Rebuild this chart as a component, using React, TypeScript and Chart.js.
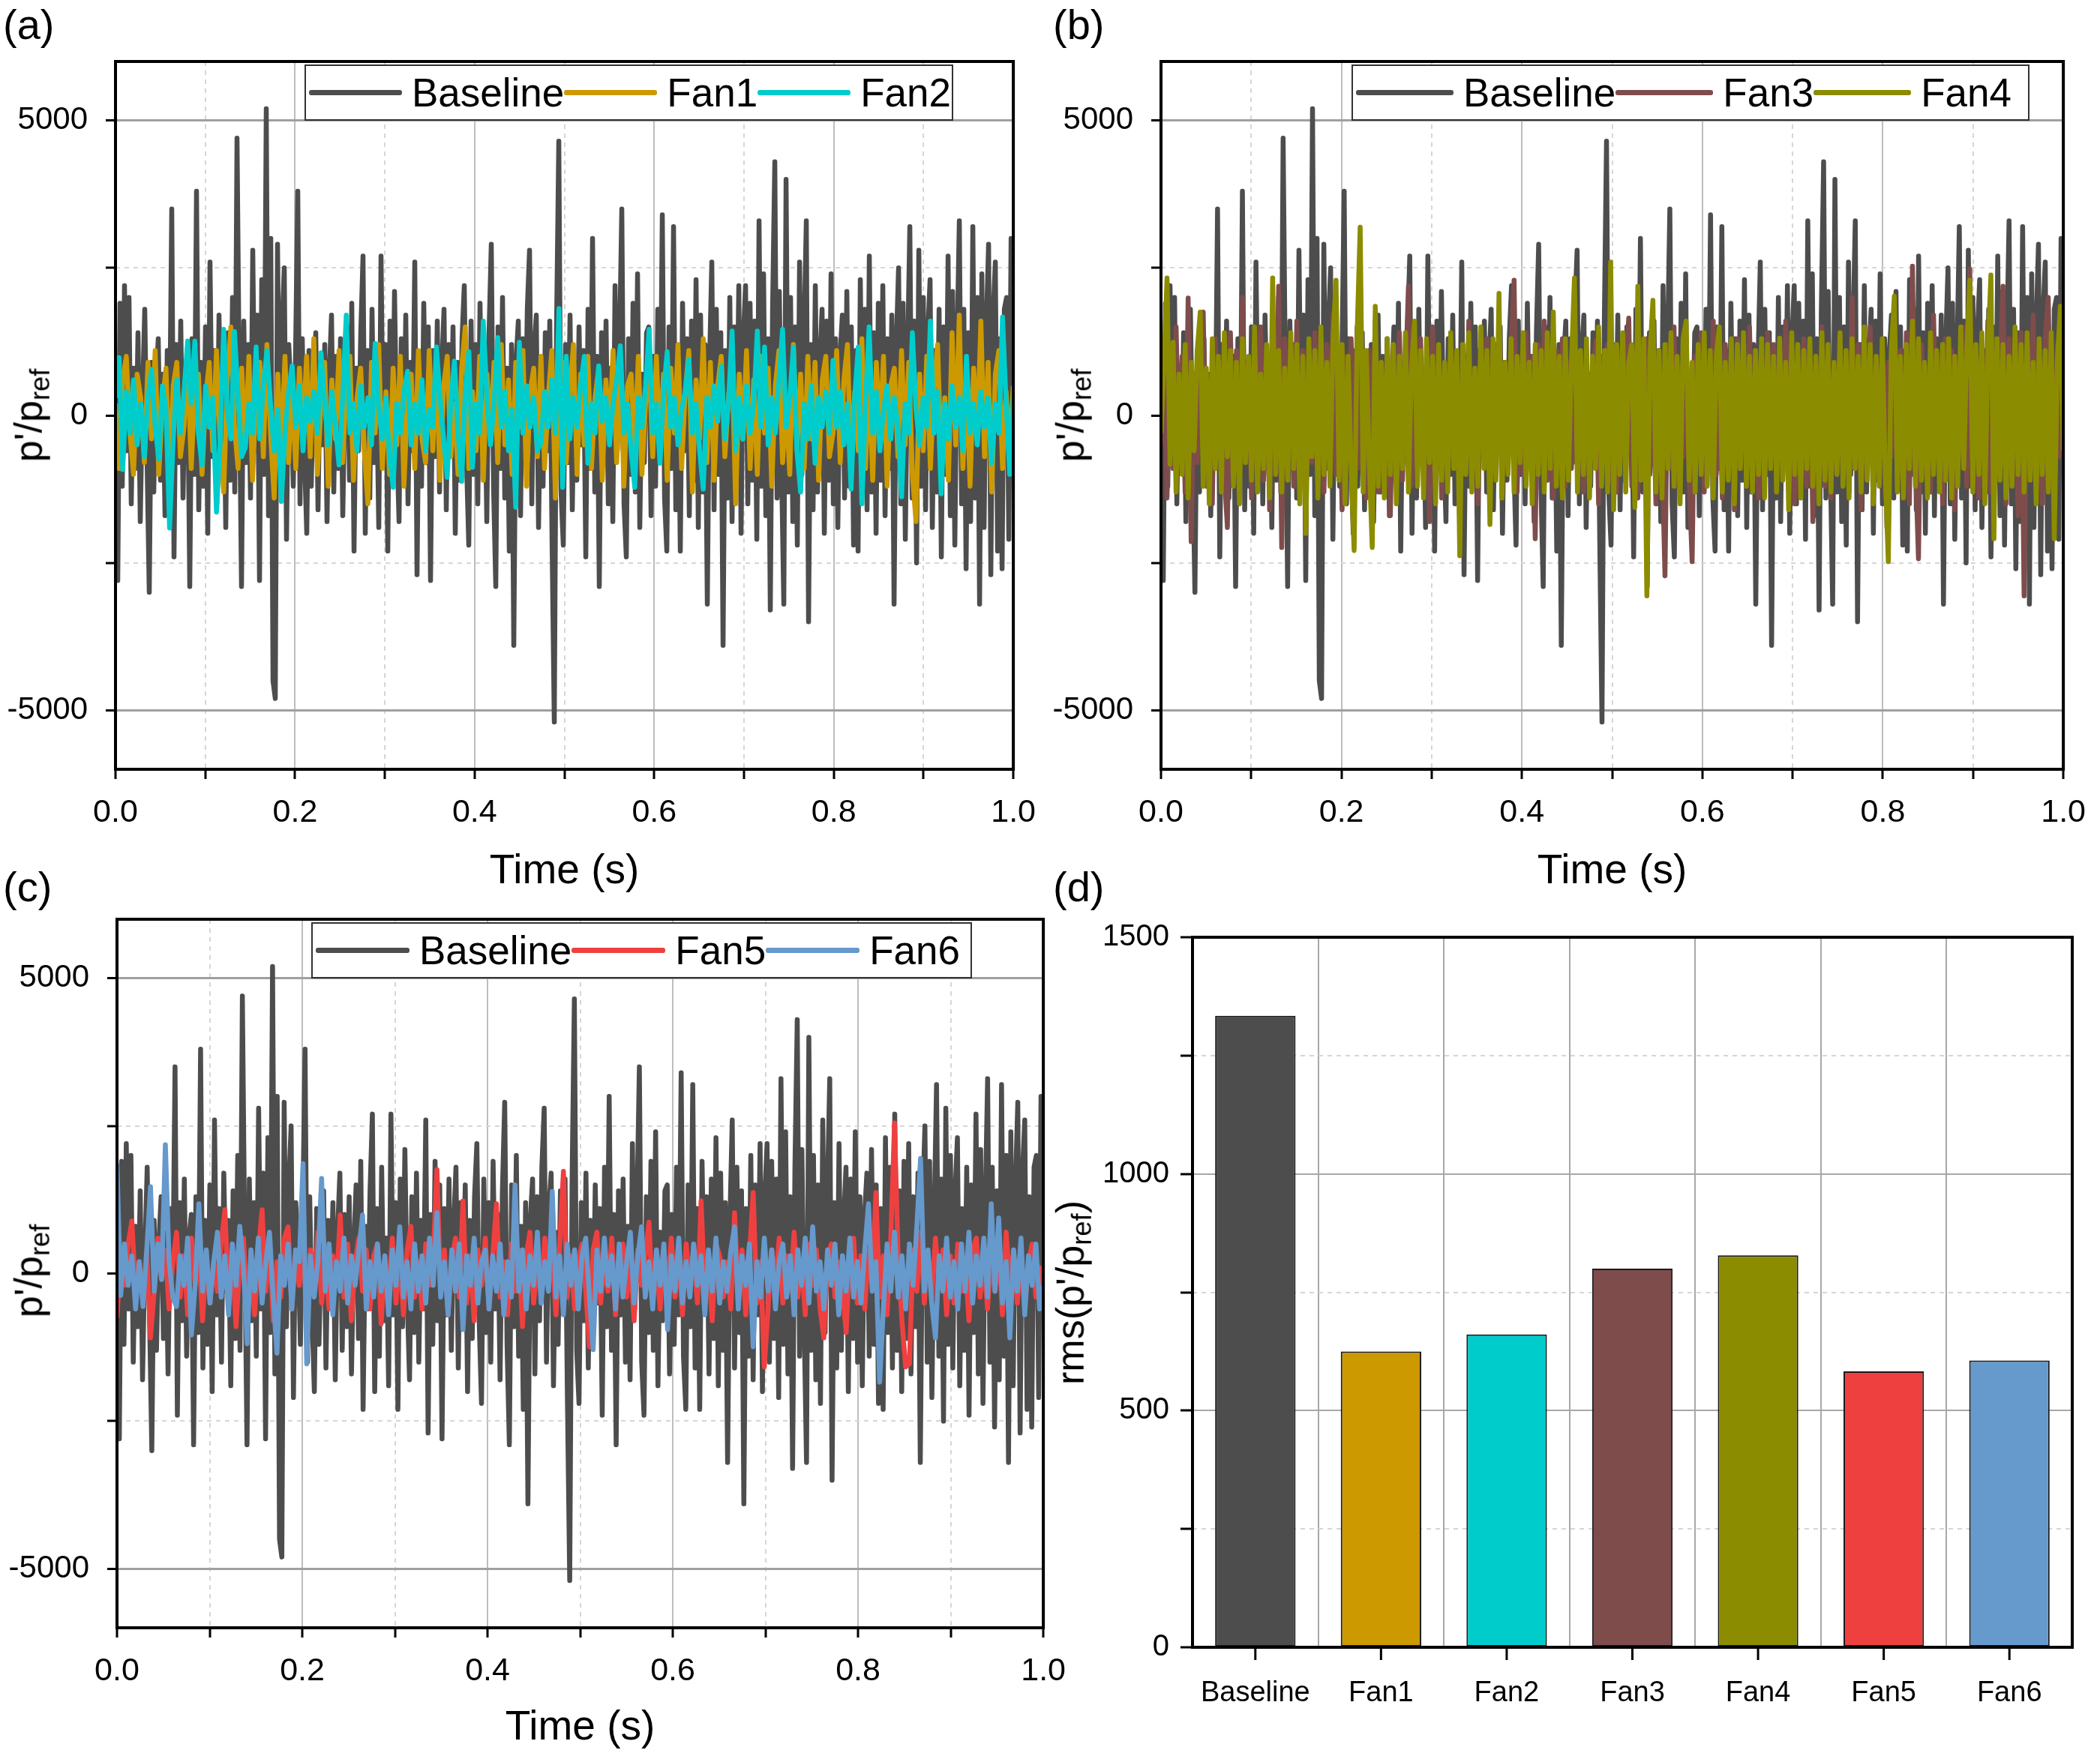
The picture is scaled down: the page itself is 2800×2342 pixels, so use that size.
import { useEffect, useRef } from 'react';
import { Chart, registerables } from 'chart.js';

Chart.register(...registerables);

const FONT = '"Liberation Sans", Arial, sans-serif';
Chart.defaults.font.family = FONT;

// p'/pref samples, evenly spaced over 0..1 s
const baseline = [
  400, -2800, 1900, -1200, 2200, -600, 2000, -1500, 800, -900, 1400, -1800, 300, 1800, -700, -3000, 900, -1300, 500, 1300,
  -1100, 700, -1700, 1100, -400, 3500, -2400, 1200, -800, 1600, -1400, 600, 1000, -2900, 1300, -1000, 3800, -1600, 900, -1200,
  1500, -2000, 2600, -700, 1100, -1500, 1700, -300, 900, -1900, 1400, -1100, 2000, -1300, 4700, 600, -2900, 1600, -800, 1200,
  -1400, 2800, -600, 1700, -2800, 2300, -1000, 5200, -1700, 3000, -4500, -4800, 2900, -900, 1500, 2500, -2100, 1200, 400, -1200,
  1000, 3800, -1500, 1300, -700, -2000, 1100, -1200, 600, 1400, -1600, 900, -500, 1200, -1800, 700, 1700, -1300, 1000, -900,
  1300, -1700, 500, 1500, -1100, 1900, -2300, 800, -600, 1400, 2700, -2000, 1100, -1400, 1800, -800, 600, -1900, 2700, -700,
  1200, -2300, 1600, -900, 2100, -400, -1800, 1300, -1000, 1700, -1500, 900, -600, 2600, -2700, 1000, -1200, 1900, -800, 1500,
  -2800, 1100, -700, 1600, -1300, 800, 1800, -1600, 1200, -500, 1500, -2000, 900, -1100, 1300, 2200, -800, -2200, 1600, -1000,
  1200, -1500, 1900, -600, 1000, -1800, 1400, 2900, -1200, -2900, 1500, -900, 2000, -1400, 800, -2300, 1200, -3900, 900, 1600,
  -1700, 1300, -800, 1800, 2800, -1500, 1100, 1700, -1900, 700, -1200, 1400, -600, 1600, -2100, -5200, 1500, 4650, -1300, -2200,
  1200, -800, 1700, -1600, 900, -1100, 1500, -500, 1100, -2400, 1800, -900, 3000, -1300, 1000, -2900, 1400, -700, 1600, -1500,
  800, -1800, 2200, -600, 1200, 3500, -1500, -2400, 1300, -1000, 1900, -1300, 2400, -1900, 700, -800, 1400, 1500, -1700, 1000,
  -1200, 1800, -700, 3400, -1400, -2300, 1500, -900, 3200, -1600, 1100, -2300, 1900, -600, 1300, -1700, 1600, -1100, 2300, -1900,
  1700, -1300, 1200, -3200, 900, 2600, -1600, 1800, -1000, 1400, -3900, 1100, -1400, 2000, -1800, 1500, -700, 2200, -2000, 1300,
  2200, -1500, 1900, -1100, 1600, -2100, 3300, -1200, 2400, -1700, 1300, -3300, 1800, 4300, -1400, 2100, -900, -3200, 4000, -1300,
  2000, -1800, 1500, -2200, 2600, -1000, 1400, 3300, -3500, 1200, -1600, 2200, -1300, 900, 1800, -2000, 1600, -1100, 2400, -1500,
  1300, -1900, 1000, 1700, -1400, 2100, -1200, 1500, -2200, 1100, -2300, 2300, -1000, 1800, -1600, 2700, -1300, 1400, -2000, 1900,
  -1100, 2200, -1700, 1300, -900, 1700, -3200, 1200, 2500, -1500, 1900, -2100, 1000, 3200, -1400, 1600, -2500, 2800, -1200, 2000,
  -1600, 1400, 2300, -1900, 1100, -1300, 1800, -2400, 1500, -1000, 2700, -1700, 2100, -2200, 1200, 3300, -1500, 1800, -2600, 1400,
  -1800, 3200, -1400, 2000, -3200, 2400, -1900, 1500, 2900, -2700, 1700, 2600, -2300, 1300, -2600, 1800, 2000, -2100, 3000, 1200,
];

const fan1 = [
  200, -900, 600, 1000, -300, -1000, 700, 300, -800, 900, -400, 1100, -1000, 200, 800, -1100, 500, 900, -700, -200, 1000, -900, 400, 700, -1000,
  300, 900, -600, 1100, -400, -1300, 600, 1500, -200, -900, 800, -500, 1000, -1100, 400, 900, -700, 1200, -300, -1400, 700, -600, 1000, -800, 500,
  -900, 800, -300, 1000, -700, 1300, -1000, 200, 900, -1200, 600, -400, 1100, -800, 500, 1000, -1100, 300, 800, -600, -1500, 900, -300, 1200, -900,
  400, -1000, 800, -500, 1000, -1200, 300, 700, -900, 1100, -400, -800, 1100, -600, 900, -1100, 500, 1000, -700, 200, -1000, 800, 1500, -900, 400,
  -600, 1000, -1100, 700, -300, 900, -800, 1200, -500, 600, -1000, 900, -200, 1100, -1200, 400, 800, -700, 1000, -900, 300, 1100, -1400, 600, 900,
  -800, 400, 1200, -1000, 700, -500, 1000, -900, 300, 800, -1100, 600, -300, 1100, -800, 900, -1200, 500, 700, -600, 1000, -1000, 200, 900, -700,
  1000, -500, 700, -1100, 800, -300, 1200, -900, 400, 1100, -1300, 600, -400, 1300, -800, 900, -1100, 500, 1000, -700, 300, 900, -1500, 700, -400,
  1100, -900, 600, -1000, 1000, -300, 800, -1200, 500, 1100, -800, 200, -1000, 1200, -600, 700, -900, 1000, -400, 900, -1100, 600, 1000, -700, -300,
  1100, -800, 600, 1200, -1000, 400, -600, 1300, -900, 700, -1100, 900, -300, 1000, -1200, 500, 800, -700, 1100, -500, 900, -1000, -1800, 700, -600,
  1000, -900, 500, 1200, -800, 300, -1100, 1400, -500, 1700, -900, 600, -1200, 800, -400, 1600, -700, 900, -1300, 700, 1100, -900, 400, -600, 500,
];

const fan2 = [
  300, 980, -920, 400, -300, 600, -500, 200, -700, 300, 780, -200, -740, 500, 100, -1910, -400, 600, -300, 400, 1260, 200, 1260, -300, -840,
  500, -200, 300, -1640, -500, 1460, 100, -400, 1420, 300, -700, -540, 200, -300, 1160, -400, 500, 1100, 200, -600, 100, -1460, -300, 400, 840,
  -200, 500, -600, 300, -100, 400, -300, 1060, 200, -500, 400, -200, -840, 300, 1700, -300, 200, -600, 500, -200, 300, -500, 1220, 100, -400,
  300, -700, -1220, 200, -300, 400, 750, -500, 200, -300, 600, -600, 100, -200, 1160, 300, -400, -1050, 200, 920, -300, -1120, 400, 1080, -880,
  200, -300, 1600, 300, -500, 200, 1320, -200, 400, -600, 100, -1560, 1240, -300, 500, -200, 300, -600, -470, 400, -200, 600, -300, 1810, -1220,
  1000, -400, 300, -200, 500, 1000, -810, 200, -300, 840, -100, 300, -500, 200, 600, 1180, -300, 200, -600, -1220, 300, -200, 500, 1460, -300,
  200, -810, 400, 1080, -200, 300, -500, 100, 400, 950, -300, 200, -600, -1250, 300, -200, 500, -100, 830, -400, 200, 1430, -600, 300, -400,
  500, -300, 200, 1430, -200, 1160, -500, 300, -300, 600, 1460, -200, 300, 1160, -600, -1300, 200, -400, 500, -810, 300, -200, 400, -300, 930,
  -200, 400, -500, 200, -1250, 300, 1160, -1500, 200, 1500, -300, 400, -600, 100, 500, -400, 300, -200, -1380, 200, -300, 1400, 100, -500, 300,
  -200, 1600, -300, 400, -1330, 200, -400, 500, -200, 300, -600, 1000, -300, 200, -500, 400, -200, 300, -810, 200, -300, 1670, 200, -1000, 300,
];

const fan3 = [
  -500, 1200, -1400, 800, -900, 1500, -600, 1000, -1300, 1990, -2140, 700, -800, 1100, 1750, -1200, 500, -1500, 1300, -700,
  900, -1000, -1900, 1400, -600, 1100, -1300, 2000, -800, 600, -1400, 1200, -500, 1500, -1100, 800, -1600, 1000, -700, 2190,
  -2240, 1300, -900, 700, -1200, 1600, -500, 1100, -1500, 900, -800, 1400, -1100, 600, -1300, 1200, -700, 1700, -1000, 800,
  -1600, 1000, -600, 1300, -1200, 1500, -900, 700, -1400, 1100, -500, 1600, -1300, 900, -1000, 1200, -1700, 800, -700, 1400,
  -1100, 600, 2190, -1200, 1000, -900, 1300, -600, 800, -1800, 1500, -700, 1100, -1400, 900, -1000, 1400, -500, 700, -1300,
  1200, -900, 1600, -1100, 500, -1500, 1000, -700, 1300, -1200, 800, -600, 1500, -1400, 900, -800, 1100, 2290, -1300, 700,
  -1000, 1400, -600, 1000, -2090, 1200, -800, 1600, -1100, 600, -1400, 1100, -500, 1300, -1200, 900, -900, 1500, -700, 1000,
  -1300, 800, -1000, 600, 1260, -1500, 1000, -700, 1200, -1100, 700, -1300, 1100, -600, 900, 1650, -1200, 800, -1400, 1000,
  -800, 1300, -1000, 700, -1500, 1100, -600, -2720, 1200, -900, 1500, -1200, 800, -700, 1300, -1100, -2480, 1000, -600, 1400,
  -1300, 900, -800, 1600, -1000, 700, -1400, 1200, -500, 1000, -1600, 1300, -900, 800, -1200, 1500, -700, 1100, -1400, 900,
  -1000, 1400, -600, 1200, -1300, 800, -1100, 1600, -800, 1000, -1500, 700, -900, 1300, -1200, 1100, -1800, 900, -600, 1500,
  -1200, 1000, -1400, 800, -700, 1400, -1100, 600, -1300, 2000, -900, 1200, -1600, 1000, -800, 1500, -1200, 700, -1000, 1300,
  -1400, 900, -700, 1600, -1200, 1100, -900, 1400, -1500, 2530, -800, -2430, 1200, -1000, 800, -1300, 1700, -600, 1000, -1500,
  1300, -900, 1100, -1600, 900, -700, 1500, -1200, 2480, -1100, 800, -1400, 1200, -800, 1600, -1300, 1000, -1000, 700, 2190,
  -1500, 1300, -900, 1100, -1700, 1400, -3060, 1200, -800, 1700, -1200, 900, -1500, 1300, 2000, -1000, -1400, 1200, -700, 900,
];

const fan4 = [
  -300, 900, 2330, -830, 1240, -1300, 700, -1000, 1200, -1400, 900, -600, 1100, 1750, -1200, 800, -1500, 1300, -900, 1000,
  -1300, 1400, -700, 1100, -1200, 900, -1500, 1300, -800, 1000, -1100, 1500, -1300, 700, -900, 1200, -1400, 2330, -1000, 1100,
  -1300, 800, -1100, 1400, -900, 1200, -1500, 1000, -2000, 1300, -700, 1100, -1400, 1500, -1000, 900, -1200, 1300, 2290, -1100,
  1200, -1500, 1000, -900, -2290, 1400, 3190, -1300, 1100, -800, -2240, 1850, -1200, 900, -1400, 1300, -1000, 1200, -1500, 1000,
  -900, 1400, -1300, 800, 1600, -1200, 1100, -1400, 1300, -800, 1000, -1500, 1200, -1100, 900, -1300, 1400, -900, 1100, -2380,
  1200, -1000, 1400, -1300, 800, -1200, 1500, -900, 1100, -1850, 1300, -1100, 2070, -1400, 900, -1000, 1300, -1300, 1000, -800,
  1400, -1200, 900, -1500, 1200, -1000, 1100, -1300, 1400, -900, 1750, -1200, 1000, -1400, 1300, -1100, 900, 2330, -1300, 1100,
  -1000, 1300, -1400, 1000, -900, 1500, -1200, 1100, -1300, 2600, -1600, 1200, -1000, 1400, -1300, 900, 1200, -1560, 2190, -1100,
  1300, -3060, 1000, 1950, -1300, 1100, -1400, 1200, -900, 1400, -1200, 1000, -1500, 1300, 1600, -1100, 900, -1300, 1200, -1000,
  1400, -1200, 1100, -1400, 1000, 1500, -1300, 900, -1100, 1300, -1500, 1200, -900, 1400, -1200, 1000, -1300, 1100, -1000, 1300,
  -1400, 1200, -900, 1000, -1300, 1310, -1100, 900, -1600, 1400, -1000, 1200, -1400, 1100, -900, 1300, -1200, 1000, -1500, 1400,
  -1100, 1200, -1300, 900, -1000, 1400, -1200, 1100, -1400, 1300, -900, 1000, -1300, 1500, -1100, 1200, -1500, 1000, -1200, 1300,
  -1000, -2480, 1100, 2020, -1300, 1000, -1400, 1200, -900, 1600, -1200, 1300, -1100, 900, -1400, 1400, -1000, 1100, -1300, 1200,
  -1100, 1300, -1400, 1000, -1200, 1500, -900, 1100, 2290, -1300, 1200, -1000, 1400, -1500, 1100, 2380, -2090, 1300, -1100, 1200,
  -1400, 1000, -1200, 1500, -1000, 1200, -1300, 1400, -1100, 900, -1500, 1300, -1000, 1100, -1300, 1400, -2090, 900, 1850, -600,
];

const fan5 = [
  -750, 300, -200, 500, 890, -300, 200, -500, 400, -1090, -300, 600, -100, 400, -600, 200, 700, -400, 300, -700, 600, -200, 400, -800, 300,
  -500, 200, -300, 500, 1080, -400, 300, -900, 200, 600, -500, 100, -700, 400, 1080, -300, 500, -800, 200, -400, 600, 790, -600, 300, -200,
  500, -700, 400, -300, 700, -500, 200, -600, 300, -200, 990, -400, 500, -800, 200, 600, -300, 400, -600, 300, 500, -850, 200, -300, 600,
  -500, 300, -700, 400, 800, -400, 200, -600, 500, -200, 300, 1760, -300, 400, -700, 200, 600, -400, 1230, -500, 300, -800, 400, -200, 600,
  -600, 300, 1180, -400, 200, -700, 500, -300, 400, -900, 300, 700, -500, 200, -400, 600, -200, 300, -700, 500, 1730, -400, 300, -600, 200,
  500, -300, -1240, 400, 700, -500, 200, -300, 600, -700, 300, 500, -400, 200, -800, 400, -200, 300, 870, -500, 200, -600, 400, -300, 600,
  -400, 300, -700, 500, -200, 400, -500, 1230, -300, 200, -800, 500, 300, -400, 200, -600, 1030, -300, 400, -700, 300, 1370, -500, 200, -1580,
  -600, 400, -200, 600, -500, 300, -300, 700, -400, 200, -700, 500, -200, 400, -600, -1090, 300, 500, -400, 200, -300, -1000, 400, 600, -500,
  300, -600, 400, -200, 1370, -400, 300, -700, 600, 2550, 200, -800, -1580, -1530, 400, -300, 700, -500, 300, -400, 600, -200, 400, -700, 300,
  -500, 500, -300, 200, -800, 400, 600, -400, 200, -600, 300, -300, 500, -700, 700, -200, 400, -500, 300, -600, 200, 500, -400, 100, -300,
];

const fan6 = [
  1860, -370, 500, -200, 300, -600, 200, -560, 400, 1470, -300, 500, -100, 2180, 200, -400, -560, 300, -200, 600, -1040, -200, 1180, -300, 400,
  -500, 200, 700, -400, 300, -700, 500, -200, 800, 100, -1190, 400, -300, 600, -500, 200, 700, -400, -1350, 300, -200, 500, -600, 400, 200,
  1860, -1530, 300, -400, 200, 1610, -300, 500, -700, 200, -300, 600, -500, 300, -200, 400, 990, -600, 200, -400, 500, -300, 300, -700, 400,
  -200, 790, -400, 200, -600, 500, -300, 300, -500, 600, -200, 1030, -400, 200, -700, 400, -300, 500, -950, 300, -200, 600, -500, 200, 400,
  -600, 300, -300, 500, -700, 200, -400, 1500, -300, 400, -600, 300, -200, 700, -500, 200, -300, 1390, -400, 300, -700, 500, -200, 400, -600,
  300, 600, -400, -1290, 400, -300, 600, -200, 300, -600, 500, -400, 200, 700, -500, 300, 790, -400, 200, -600, 400, -200, 500, -950, 300,
  -300, 600, -500, 200, -400, 500, -200, 300, -700, 400, -300, 600, -500, 200, -300, 400, 790, -600, 300, -200, 500, -1240, 200, -400, 600,
  -300, 400, -600, 200, 500, -400, 300, -700, 400, -200, 600, -500, 790, -300, 200, -600, 400, -200, 500, -700, 300, -300, 600, -400, 200,
  -500, 400, 1180, -300, 200, -1840, -600, 500, -300, 700, -400, 300, -600, 500, -200, 800, 1950, -300, 400, -500, -1090, 300, -300, 600, -400,
  200, -600, 500, -300, 700, -500, 300, -200, 600, -400, 1180, -300, 940, -500, 200, -1090, 400, -300, 600, -700, 300, -200, 500, -600, -200,
];

// tick positions of the pressure axes
const pressureTicks = [-5000, -2500, 0, 2500, 5000];

// rms(p'/pref) per configuration
const rmsLabels = ['Baseline', 'Fan1', 'Fan2', 'Fan3', 'Fan4', 'Fan5', 'Fan6'];
const rmsValues = [1334, 625, 661, 800, 828, 583, 606];
const rmsTicks = [0, 250, 500, 750, 1000, 1250, 1500];

const COLORS: Record<string, string> = {
  Baseline: '#4d4d4d',
  Fan1: '#cc9900',
  Fan2: '#00cccc',
  Fan3: '#7f4c4c',
  Fan4: '#8c8c00',
  Fan5: '#ef4040',
  Fan6: '#6699cc',
};

type Series = { label: string; values: number[] };

function toPoints(values: number[]) {
  const n = values.length - 1;
  return values.map((y, i) => ({ x: i / n, y }));
}

// black box round the plot area, plus tick marks under bar centres if asked
const framePlugin = {
  id: 'frame',
  afterDraw(chart: any, _args: any, opts: any) {
    const { ctx, chartArea: a } = chart;
    ctx.save();
    ctx.strokeStyle = '#000';
    ctx.lineWidth = 4;
    ctx.strokeRect(a.left, a.top, a.right - a.left, a.bottom - a.top);
    if (opts && opts.centerTicks) {
      const xs = chart.scales.x;
      ctx.lineWidth = 3;
      ctx.beginPath();
      for (let i = 0; i < rmsLabels.length; i++) {
        const px = xs.getPixelForValue(i);
        ctx.moveTo(px, a.bottom);
        ctx.lineTo(px, a.bottom + 17);
      }
      ctx.stroke();
    }
    ctx.restore();
  },
};

function timeConfig(series: Series[], pad: { top: number; right: number }, yWidth: number, xHeight: number) {
  const isMajorX = (v: number) => Math.round(v * 10) % 2 === 0;
  const isMajorY = (v: number) => v % 5000 === 0;
  return {
    type: 'line',
    data: {
      datasets: series.map((s, i) => ({
        label: s.label,
        data: toPoints(s.values),
        borderColor: COLORS[s.label],
        borderWidth: 6.5,
        borderJoinStyle: 'round',
        pointRadius: 0,
        tension: 0,
        order: series.length - i,
      })),
    },
    options: {
      animation: false,
      responsive: true,
      maintainAspectRatio: false,
      devicePixelRatio: 1,
      events: [],
      layout: { padding: { top: pad.top, right: pad.right, left: 0, bottom: 0 } },
      plugins: { legend: { display: false }, tooltip: { enabled: false } },
      scales: {
        x: {
          type: 'linear',
          min: 0,
          max: 1,
          ticks: {
            stepSize: 0.1,
            autoSkip: false,
            maxRotation: 0,
            padding: 19,
            color: '#000',
            font: { size: 43 },
            callback: (v: number) => (isMajorX(v) ? v.toFixed(1) : ''),
          },
          grid: {
            color: (c: any) => (c.tick && isMajorX(c.tick.value) ? '#bdbdbd' : '#d6d6d6'),
            lineWidth: 2,
            tickColor: '#000',
            tickLength: 13,
            tickWidth: 3,
            tickBorderDash: [],
          },
          border: {
            display: false,
            dash: (c: any) => (c.tick && !isMajorX(c.tick.value) ? [6, 6] : []),
          },
          title: {
            display: true,
            text: 'Time (s)',
            color: '#000',
            font: { size: 55 },
            padding: { top: 0, bottom: 4 },
          },
          afterFit: (s: any) => {
            s.height = xHeight;
          },
        },
        y: {
          type: 'linear',
          min: -6000,
          max: 6000,
          afterBuildTicks: (s: any) => {
            s.ticks = pressureTicks.map((value) => ({ value }));
          },
          ticks: {
            padding: 24,
            color: '#000',
            font: { size: 42 },
            callback: (v: number) => (isMajorY(v) ? String(v) : ''),
          },
          grid: {
            color: (c: any) => (c.tick && isMajorY(c.tick.value) ? '#a0a0a0' : '#d6d6d6'),
            lineWidth: (c: any) => (c.tick && isMajorY(c.tick.value) ? 3 : 2),
            tickColor: '#000',
            tickLength: 13,
            tickWidth: 3,
            tickBorderDash: [],
          },
          border: {
            display: false,
            dash: (c: any) => (c.tick && !isMajorY(c.tick.value) ? [6, 6] : []),
          },
          afterFit: (s: any) => {
            s.width = yWidth;
          },
        },
      },
    },
    plugins: [framePlugin],
  };
}

function barConfig() {
  return {
    type: 'bar',
    data: {
      labels: rmsLabels,
      datasets: [
        {
          data: rmsValues,
          backgroundColor: rmsLabels.map((l) => COLORS[l]),
          borderColor: '#1a1a1a',
          borderWidth: 2,
          borderSkipped: false,
          categoryPercentage: 1,
          barPercentage: 0.64,
        },
      ],
    },
    options: {
      animation: false,
      responsive: true,
      maintainAspectRatio: false,
      devicePixelRatio: 1,
      events: [],
      layout: { padding: { top: 100, right: 37, left: 0, bottom: 0 } },
      plugins: { legend: { display: false }, tooltip: { enabled: false }, frame: { centerTicks: true } },
      scales: {
        x: {
          type: 'category',
          ticks: { padding: 39, color: '#000', font: { size: 38 }, maxRotation: 0, autoSkip: false },
          grid: { offset: true, color: '#a8a8a8', lineWidth: 2, drawTicks: false },
          border: { display: false },
          afterFit: (s: any) => {
            s.height = 145;
          },
        },
        y: {
          type: 'linear',
          min: 0,
          max: 1500,
          afterBuildTicks: (s: any) => {
            s.ticks = rmsTicks.map((value) => ({ value }));
          },
          ticks: {
            padding: 15,
            color: '#000',
            font: { size: 40 },
            callback: (v: number) => (v % 500 === 0 ? String(v) : ''),
          },
          grid: {
            color: (c: any) => (c.tick && c.tick.value % 500 === 0 ? '#a8a8a8' : '#d6d6d6'),
            lineWidth: 2,
            tickColor: '#000',
            tickLength: 16,
            tickWidth: 3,
            tickBorderDash: [],
          },
          border: {
            display: false,
            dash: (c: any) => (c.tick && c.tick.value % 500 !== 0 ? [6, 6] : []),
          },
          afterFit: (s: any) => {
            s.width = 190;
          },
        },
      },
    },
    plugins: [framePlugin],
  };
}

function ChartBox({ left, top, width, height, build }: { left: number; top: number; width: number; height: number; build: () => any }) {
  const ref = useRef<HTMLCanvasElement>(null);
  useEffect(() => {
    if (!ref.current) return;
    const chart = new Chart(ref.current, build());
    return () => chart.destroy();
  }, []);
  return (
    <div style={{ position: 'absolute', left, top, width, height }}>
      <canvas ref={ref} />
    </div>
  );
}

function Legend({ left, top, width, sample, labels }: { left: number; top: number; width: number; sample: number; labels: string[] }) {
  return (
    <div
      style={{
        position: 'absolute',
        left,
        top,
        width,
        height: 75,
        boxSizing: 'border-box',
        border: '2px solid #333',
        background: '#fff',
        display: 'flex',
        alignItems: 'center',
        paddingLeft: 4,
        fontFamily: FONT,
        fontSize: 53,
        lineHeight: 1,
        whiteSpace: 'nowrap',
      }}
    >
      {labels.map((l) => (
        <span key={l} style={{ display: 'flex', alignItems: 'center' }}>
          <span style={{ display: 'inline-block', width: sample, height: 7, background: COLORS[l], borderRadius: 3 }} />
          <span style={{ marginLeft: 13 }}>{l}</span>
        </span>
      ))}
    </div>
  );
}

function YTitle({ cx, cy, children }: { cx: number; cy: number; children: React.ReactNode }) {
  return (
    <div
      style={{
        position: 'absolute',
        left: cx,
        top: cy,
        transform: 'translate(-50%, -50%) rotate(-90deg)',
        fontFamily: FONT,
        fontSize: 52,
        lineHeight: 1,
        whiteSpace: 'nowrap',
      }}
    >
      {children}
    </div>
  );
}

function PanelTag({ left, top, text }: { left: number; top: number; text: string }) {
  return (
    <div style={{ position: 'absolute', left, top, fontFamily: FONT, fontSize: 56, lineHeight: 1 }}>{text}</div>
  );
}

const sub = { fontSize: '70%', verticalAlign: '-0.28em' } as const;

export default function App() {
  const panelA: Series[] = [
    { label: 'Baseline', values: baseline },
    { label: 'Fan1', values: fan1 },
    { label: 'Fan2', values: fan2 },
  ];
  const panelB: Series[] = [
    { label: 'Baseline', values: baseline },
    { label: 'Fan3', values: fan3 },
    { label: 'Fan4', values: fan4 },
  ];
  const panelC: Series[] = [
    { label: 'Baseline', values: baseline },
    { label: 'Fan5', values: fan5 },
    { label: 'Fan6', values: fan6 },
  ];

  return (
    <div style={{ position: 'absolute', left: 0, top: 0, width: 2800, height: 2342, background: '#fff', overflow: 'hidden' }}>
      <ChartBox left={0} top={0} width={1400} height={1200} build={() => timeConfig(panelA, { top: 82, right: 34 }, 154, 174)} />
      <ChartBox left={1400} top={0} width={1400} height={1200} build={() => timeConfig(panelB, { top: 82, right: 36 }, 148, 174)} />
      <ChartBox left={0} top={1150} width={1440} height={1192} build={() => timeConfig(panelC, { top: 76, right: 45 }, 156, 171)} />
      <ChartBox left={1400} top={1150} width={1400} height={1192} build={barConfig} />

      <Legend left={406} top={86} width={865} sample={124} labels={['Baseline', 'Fan1', 'Fan2']} />
      <Legend left={1802} top={86} width={904} sample={130} labels={['Baseline', 'Fan3', 'Fan4']} />
      <Legend left={415} top={1230} width={881} sample={125} labels={['Baseline', 'Fan5', 'Fan6']} />

      <YTitle cx={42} cy={554}>
        p'/p<sub style={sub}>ref</sub>
      </YTitle>
      <YTitle cx={1431} cy={554}>
        p'/p<sub style={sub}>ref</sub>
      </YTitle>
      <YTitle cx={42} cy={1695}>
        p'/p<sub style={sub}>ref</sub>
      </YTitle>
      <YTitle cx={1431} cy={1724}>
        rms(p'/p<sub style={sub}>ref</sub>)
      </YTitle>

      <PanelTag left={4} top={5} text="(a)" />
      <PanelTag left={1404} top={5} text="(b)" />
      <PanelTag left={4} top={1155} text="(c)" />
      <PanelTag left={1404} top={1155} text="(d)" />
    </div>
  );
}
